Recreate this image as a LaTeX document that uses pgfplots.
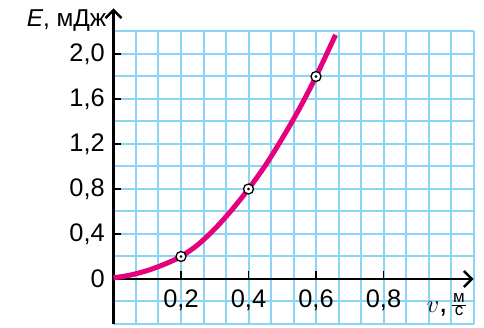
\documentclass[border=0pt]{standalone}
\usepackage{fontspec}
\setmainfont{Liberation Sans}
\usepackage{pgfplots}
\pgfplotsset{compat=1.18}
\usetikzlibrary{arrows.meta}
\definecolor{gridblue}{RGB}{140,212,243}
\definecolor{curvemag}{RGB}{230,0,126}
\begin{document}
\begin{tikzpicture}
\useasboundingbox (-113.5bp,-49bp) rectangle (370.5bp,279bp);
\begin{axis}[
  at={(0,0)}, anchor=origin,
  x=337.5bp, y=112.5bp,
  xmin=0, xmax=1.06667, ymin=-0.4, ymax=2.2,
  clip=false,
  axis lines=middle,
  axis line style={black, line width=2.4bp},
  x axis line style={-{Straight Barb[length=8bp,width=16bp]}},
  y axis line style={-{Straight Barb[length=8bp,width=16bp]}, shorten >=-23bp},
  xtick={0.2,0.4,0.6,0.8},
  xticklabels={{0,2},{0,4},{0,6},{0,8}},
  ytick={0,0.4,0.8,1.2,1.6,2.0},
  yticklabels={0,{0,4},{0,8},{1,2},{1,6},{2,0}},
  minor xtick={0,0.066667,0.133333,0.2,0.266667,0.333333,0.4,0.466667,0.533333,0.6,0.666667,0.733333,0.8,0.866667,0.933333,1.0,1.066667},
  minor ytick={-0.4,-0.2,0,0.2,0.4,0.6,0.8,1.0,1.2,1.4,1.6,1.8,2.0,2.2},
  grid=both,
  major grid style={gridblue, line width=2bp},
  minor grid style={gridblue, line width=2bp},
  tick align=inside,
  major tick length=8bp,
  minor tick length=0pt,
  tick style={black, line width=1.6bp},
  hide obscured x ticks=false,
  hide obscured y ticks=false,
  xticklabel style={anchor=north, inner sep=0pt, yshift=-11bp, font=\fontsize{25.5}{28}\selectfont},
  yticklabel style={anchor=east, inner sep=0pt, xshift=-8.5bp, font=\fontsize{25.5}{28}\selectfont},
]
\addplot[curvemag, line width=5bp, smooth] coordinates {
(0,0.01) (0.05,0.035) (0.1,0.075) (0.15,0.13) (0.2,0.2) (0.25,0.305) (0.3,0.445) (0.35,0.612) (0.4,0.8) (0.45,1.01) (0.5,1.25) (0.55,1.51) (0.6,1.8) (0.658,2.17)};
\addplot[only marks, mark=*, mark size=5bp, mark options={fill=white, draw=black, line width=1.3bp}] coordinates {(0.2,0.2) (0.4,0.8) (0.6,1.8)};
\addplot[only marks, mark=*, mark size=1.2bp, black] coordinates {(0.2,0.2) (0.4,0.8) (0.6,1.8)};
\node[anchor=base east, inner sep=0pt, font=\fontsize{24.5}{28}\selectfont, xshift=-7bp] at (axis cs:0,2.24) {\textit{E}, мДж};
\node[anchor=base east, inner sep=0pt, font=\fontsize{30}{32}\selectfont] at (axis cs:0.99,-0.302) {$v$,};
\node[anchor=base, inner sep=0pt, font=\fontsize{17}{7}\selectfont] at (axis cs:1.0237,-0.32) {\setlength{\arrayrulewidth}{1.2bp}\setlength{\tabcolsep}{1pt}\begin{tabular}[b]{c}м\\\hline с\end{tabular}};
\end{axis}
\end{tikzpicture}
\end{document}
